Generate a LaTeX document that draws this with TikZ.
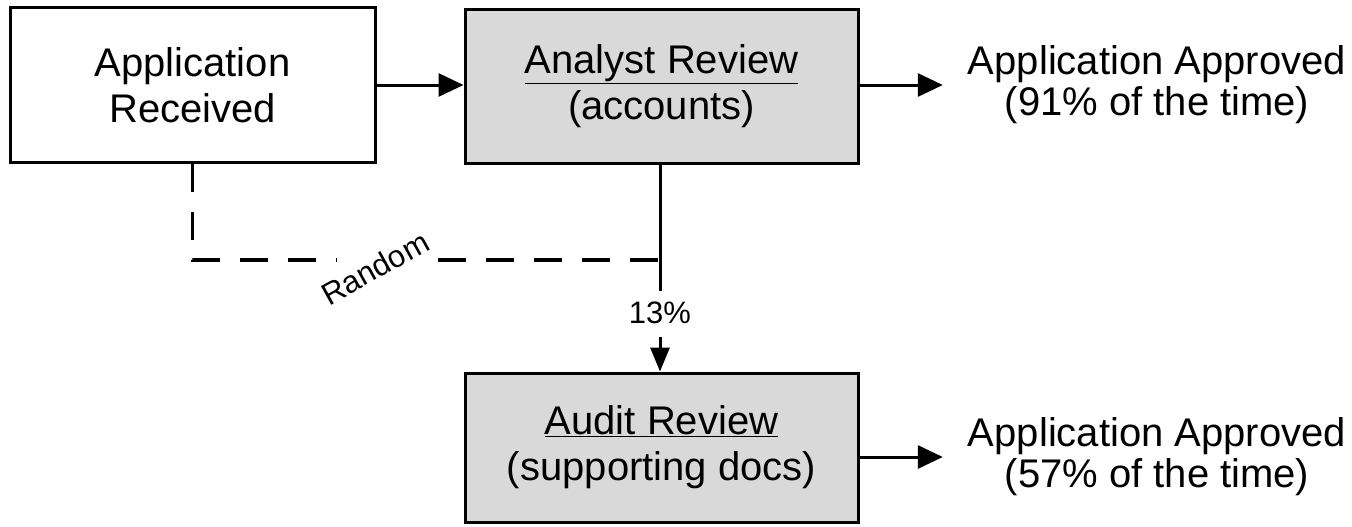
\documentclass[tikz,border=0pt]{standalone}
\usepackage{fontspec}
\setmainfont{Liberation Sans}
\usetikzlibrary{arrows.meta}
\begin{document}
\begin{tikzpicture}[x=1pt,y=-1pt,
  box/.style={draw=black, line width=3pt, inner sep=0pt, align=center,
    font=\fontsize{40}{46}\selectfont},
  review/.style={box, fill=black!15},
  flow/.style={line width=3pt, -{Triangle[length=25pt,width=23pt]}},
  outcome/.style={align=center, inner sep=0pt, font=\fontsize{40}{41}\selectfont},
  dashline/.style={line width=3.5pt, dash pattern=on 28pt off 20pt},
  small/.style={inner sep=0pt, font=\fontsize{31}{33}\selectfont},
]
\useasboundingbox (0,0) rectangle (1352,527);

% process boxes
\node[box, minimum width=365pt, minimum height=154pt] (recv) at (192.5,85) {Application\\Received};
\node[review, minimum width=393pt, minimum height=153pt] (rev) at (661.5,86.5) {\underline{Analyst Review}\\(accounts)};
\node[review, minimum width=393pt, minimum height=149pt] (audit) at (661.5,447.5) {\underline{Audit Review}\\(supporting docs)};

% outcomes
\node[outcome] (ok1) at (1157,85) {Application Approved\\(91\% of the time)};
\node[outcome] (ok2) at (1157,457) {Application Approved\\(57\% of the time)};

% main flow
\draw[flow] (recv.east) -- (recv.east -| rev.west);
\draw[flow, shorten >=25pt] (rev.east |- ok1.west) -- (ok1.west);
\draw[flow, shorten >=25pt] (audit.east |- ok2.west) -- (ok2.west);

% referral to audit
\coordinate (split) at (660,260);
\coordinate (stem) at (660,291);
\coordinate (tail) at (660,337);
\node[small] (pct) at (660,313) {13\%};
\draw[line width=3pt] (rev.south -| split) -- (split) -- (stem);
\draw[line width=3pt, -{Triangle[length=24pt,width=19pt]}] (tail) -- (audit.north -| tail);

% random selection path
\coordinate (gapL) at (337,260);
\coordinate (gapR) at (438,260);
\draw[dashline] (recv.south) |- (gapL);
\draw[dashline] (gapR) -- (split);
\node[small, rotate=29] (rnd) at (375,268) {Random};
\end{tikzpicture}
\end{document}
